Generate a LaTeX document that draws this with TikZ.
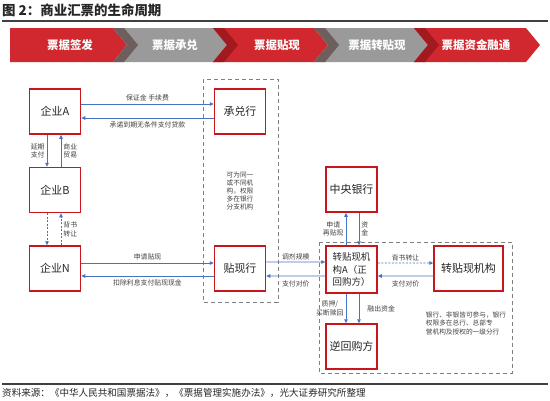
\documentclass[tikz,border=0pt]{standalone}
\usepackage{fontspec}
\setmainfont{Noto Sans CJK SC}
\usetikzlibrary{arrows.meta}
\definecolor{boxred}{HTML}{C8161D}
\definecolor{chred}{HTML}{D0282E}
\definecolor{chredd}{HTML}{A01A1F}
\definecolor{chgray}{HTML}{9A9A9A}
\definecolor{chgrayd}{HTML}{6E5E5E}
\definecolor{lnblue}{HTML}{4472C4}
\definecolor{txtgray}{HTML}{404040}
\definecolor{dashgray}{HTML}{808080}
\tikzset{
  entbox/.style={draw=boxred, line width=1.5bp, fill=white, minimum width=51bp, minimum height=45bp, inner sep=0pt, font=\fontsize{11}{13}\selectfont, text=black!85},
  flow/.style={draw=lnblue, line width=0.8bp, -{Triangle[length=4bp,width=3.5bp]}},
  dflow/.style={flow, dash pattern=on 2bp off 1.5bp},
  lbl/.style={font=\fontsize{6.9}{8.3}\selectfont, text=txtgray, inner sep=1bp, align=center},
  grpbox/.style={draw=dashgray, line width=1bp, dash pattern=on 4bp off 3bp},
  chlbl/.style={font=\bfseries\fontsize{11.5}{13}\selectfont, text=white}
}
\begin{document}
\begin{tikzpicture}[x=1bp,y=-1bp]
\useasboundingbox (0,0) rectangle (550,400);
% title
\node[anchor=west, font=\bfseries\fontsize{13.5}{15}\selectfont, text=black!85, inner sep=0pt] (title) at (2,10.5) {图 2：商业汇票的生命周期};
\draw[line width=1.3bp, txtgray] (2,21) -- (548,21);
% chevrons
\fill[chred] (10,28) -- (113,28) -- (127,45) -- (113,62) -- (10,62) -- cycle;
\fill[chgray] (113,28) -- (213,28) -- (227,45) -- (213,62) -- (113,62) -- (127,45) -- cycle;
\fill[chgrayd] (113,28) -- (124,28) -- (138,45) -- (124,62) -- (113,62) -- (127,45) -- cycle;
\fill[chred] (213,28) -- (314,28) -- (328,45) -- (314,62) -- (213,62) -- (227,45) -- cycle;
\fill[chredd] (213,28) -- (224,28) -- (238,45) -- (224,62) -- (213,62) -- (227,45) -- cycle;
\fill[chgray] (314,28) -- (414,28) -- (428,45) -- (414,62) -- (314,62) -- (328,45) -- cycle;
\fill[chgrayd] (314,28) -- (325,28) -- (339,45) -- (325,62) -- (314,62) -- (328,45) -- cycle;
\fill[chred] (414,28) -- (526,28) -- (540,45) -- (526,62) -- (414,62) -- (428,45) -- cycle;
\fill[chredd] (414,28) -- (425,28) -- (439,45) -- (425,62) -- (414,62) -- (428,45) -- cycle;
\node[chlbl] (c1) at (70,45) {票据签发};
\node[chlbl] (c2) at (175,45) {票据承兑};
\node[chlbl] (c3) at (277,45) {票据贴现};
\node[chlbl] (c4) at (377,45) {票据转贴现};
\node[chlbl] (c5) at (476,45) {票据资金融通};
% group boxes
\draw[grpbox] (203,79) rectangle (278,302);
\draw[grpbox] (319,242) rectangle (512,373);
\node[lbl, font=\fontsize{6.7}{8.2}\selectfont] (g1) at (240,191) {可为同一\\或不同机\\构，权限\\多在银行\\分支机构};
\node[lbl, align=left, font=\fontsize{6.7}{8.5}\selectfont] (g2) at (466,323) {银行、非银皆可参与，银行\\权限多在总行、总部专\\营机构及授权的一级分行};
% nodes
\node[entbox] (qa) at (55,111.5) {企业A};
\node[entbox] (qb) at (55,190) {企业B};
\node[entbox] (qn) at (55,268.5) {企业N};
\node[entbox] (cd) at (240,111.5) {承兑行};
\node[entbox] (tx) at (240,268.5) {贴现行};
\node[entbox] (zy) at (351.5,189.5) {中央银行};
\node[entbox, minimum height=47bp, align=left, font=\fontsize{9.5}{13}\selectfont] (za) at (351.5,269.5) {转贴现机\\构A（正\\回购方）};
\node[entbox] (nh) at (351.5,346.5) {逆回购方};
\node[entbox, minimum width=69bp] (zj) at (468.5,268.5) {转贴现机构};
% flows A - acceptance bank
\draw[flow] ([yshift=7.5bp]qa.east) -- ([yshift=7.5bp]cd.west) node[lbl, midway, above=2bp] {保证金 手续费};
\draw[flow] ([yshift=-6.5bp]cd.west) -- ([yshift=-6.5bp]qa.east) node[lbl, midway, below=2bp] {承诺到期无条件支付贷款};
% A - B
\draw[flow] ([xshift=-8bp]qa.south) -- ([xshift=-8bp]qb.north) node[lbl, midway, left=1bp] {延期\\支付};
\draw[flow] ([xshift=6bp]qb.north) -- ([xshift=6bp]qa.south) node[lbl, midway, right=1bp] {商业\\贸易};
% B - N
\draw[dflow] ([xshift=-8bp]qb.south) -- ([xshift=-8bp]qn.north);
\draw[dflow] ([xshift=6bp]qn.north) -- ([xshift=6bp]qb.south) node[lbl, midway, right=1bp] {背书\\转让};
% N - discount bank
\draw[flow] ([yshift=5.5bp]qn.east) -- ([yshift=5.5bp]tx.west) node[lbl, midway, above=2bp] {申请贴现};
\draw[flow] ([yshift=-7.5bp]tx.west) -- ([yshift=-7.5bp]qn.east) node[lbl, midway, below=2bp] {扣除利息支付贴现现金};
% discount bank - A
\draw[flow] ([yshift=6.5bp]tx.east) -- ([yshift=7.5bp]za.west) node[lbl, midway, above=1bp] {调剂规模};
\draw[flow] ([yshift=-6.5bp]za.west) -- ([yshift=-7.5bp]tx.east) node[lbl, midway, below=3bp] {支付对价};
% A - central bank
\draw[flow] ([xshift=-5.5bp]za.north) -- ([xshift=-5.5bp]zy.south) node[lbl, midway, left=1bp] {申请\\再贴现};
\draw[flow] ([xshift=7.5bp]zy.south) -- ([xshift=7.5bp]za.north) node[lbl, midway, right=1bp] {资\\金};
% A - rediscount institutions
\draw[dflow] ([yshift=6.5bp]za.east) -- ([yshift=5.5bp]zj.west) node[lbl, midway, above=1bp] {背书转让};
\draw[flow] ([yshift=-7.5bp]zj.west) -- ([yshift=-6.5bp]za.east) node[lbl, midway, below=3bp] {支付对价};
% A - reverse repo
\draw[flow] ([xshift=-5.5bp]za.south) -- ([xshift=-5.5bp]nh.north) node[lbl, midway, left=1bp] {质押/\\买断赎回};
\draw[flow] ([xshift=7.5bp]za.south) -- ([xshift=7.5bp]nh.north) node[lbl, midway, right=7bp] {融出资金};
% source
\draw[line width=1.5bp, txtgray] (2,384) -- (548,384);
\node[anchor=west, font=\fontsize{9.6}{11}\selectfont, text=black!85, inner sep=0pt] (src) at (2,393) {资料来源：《中华人民共和国票据法》，《票据管理实施办法》，光大证券研究所整理};
\end{tikzpicture}
\end{document}
